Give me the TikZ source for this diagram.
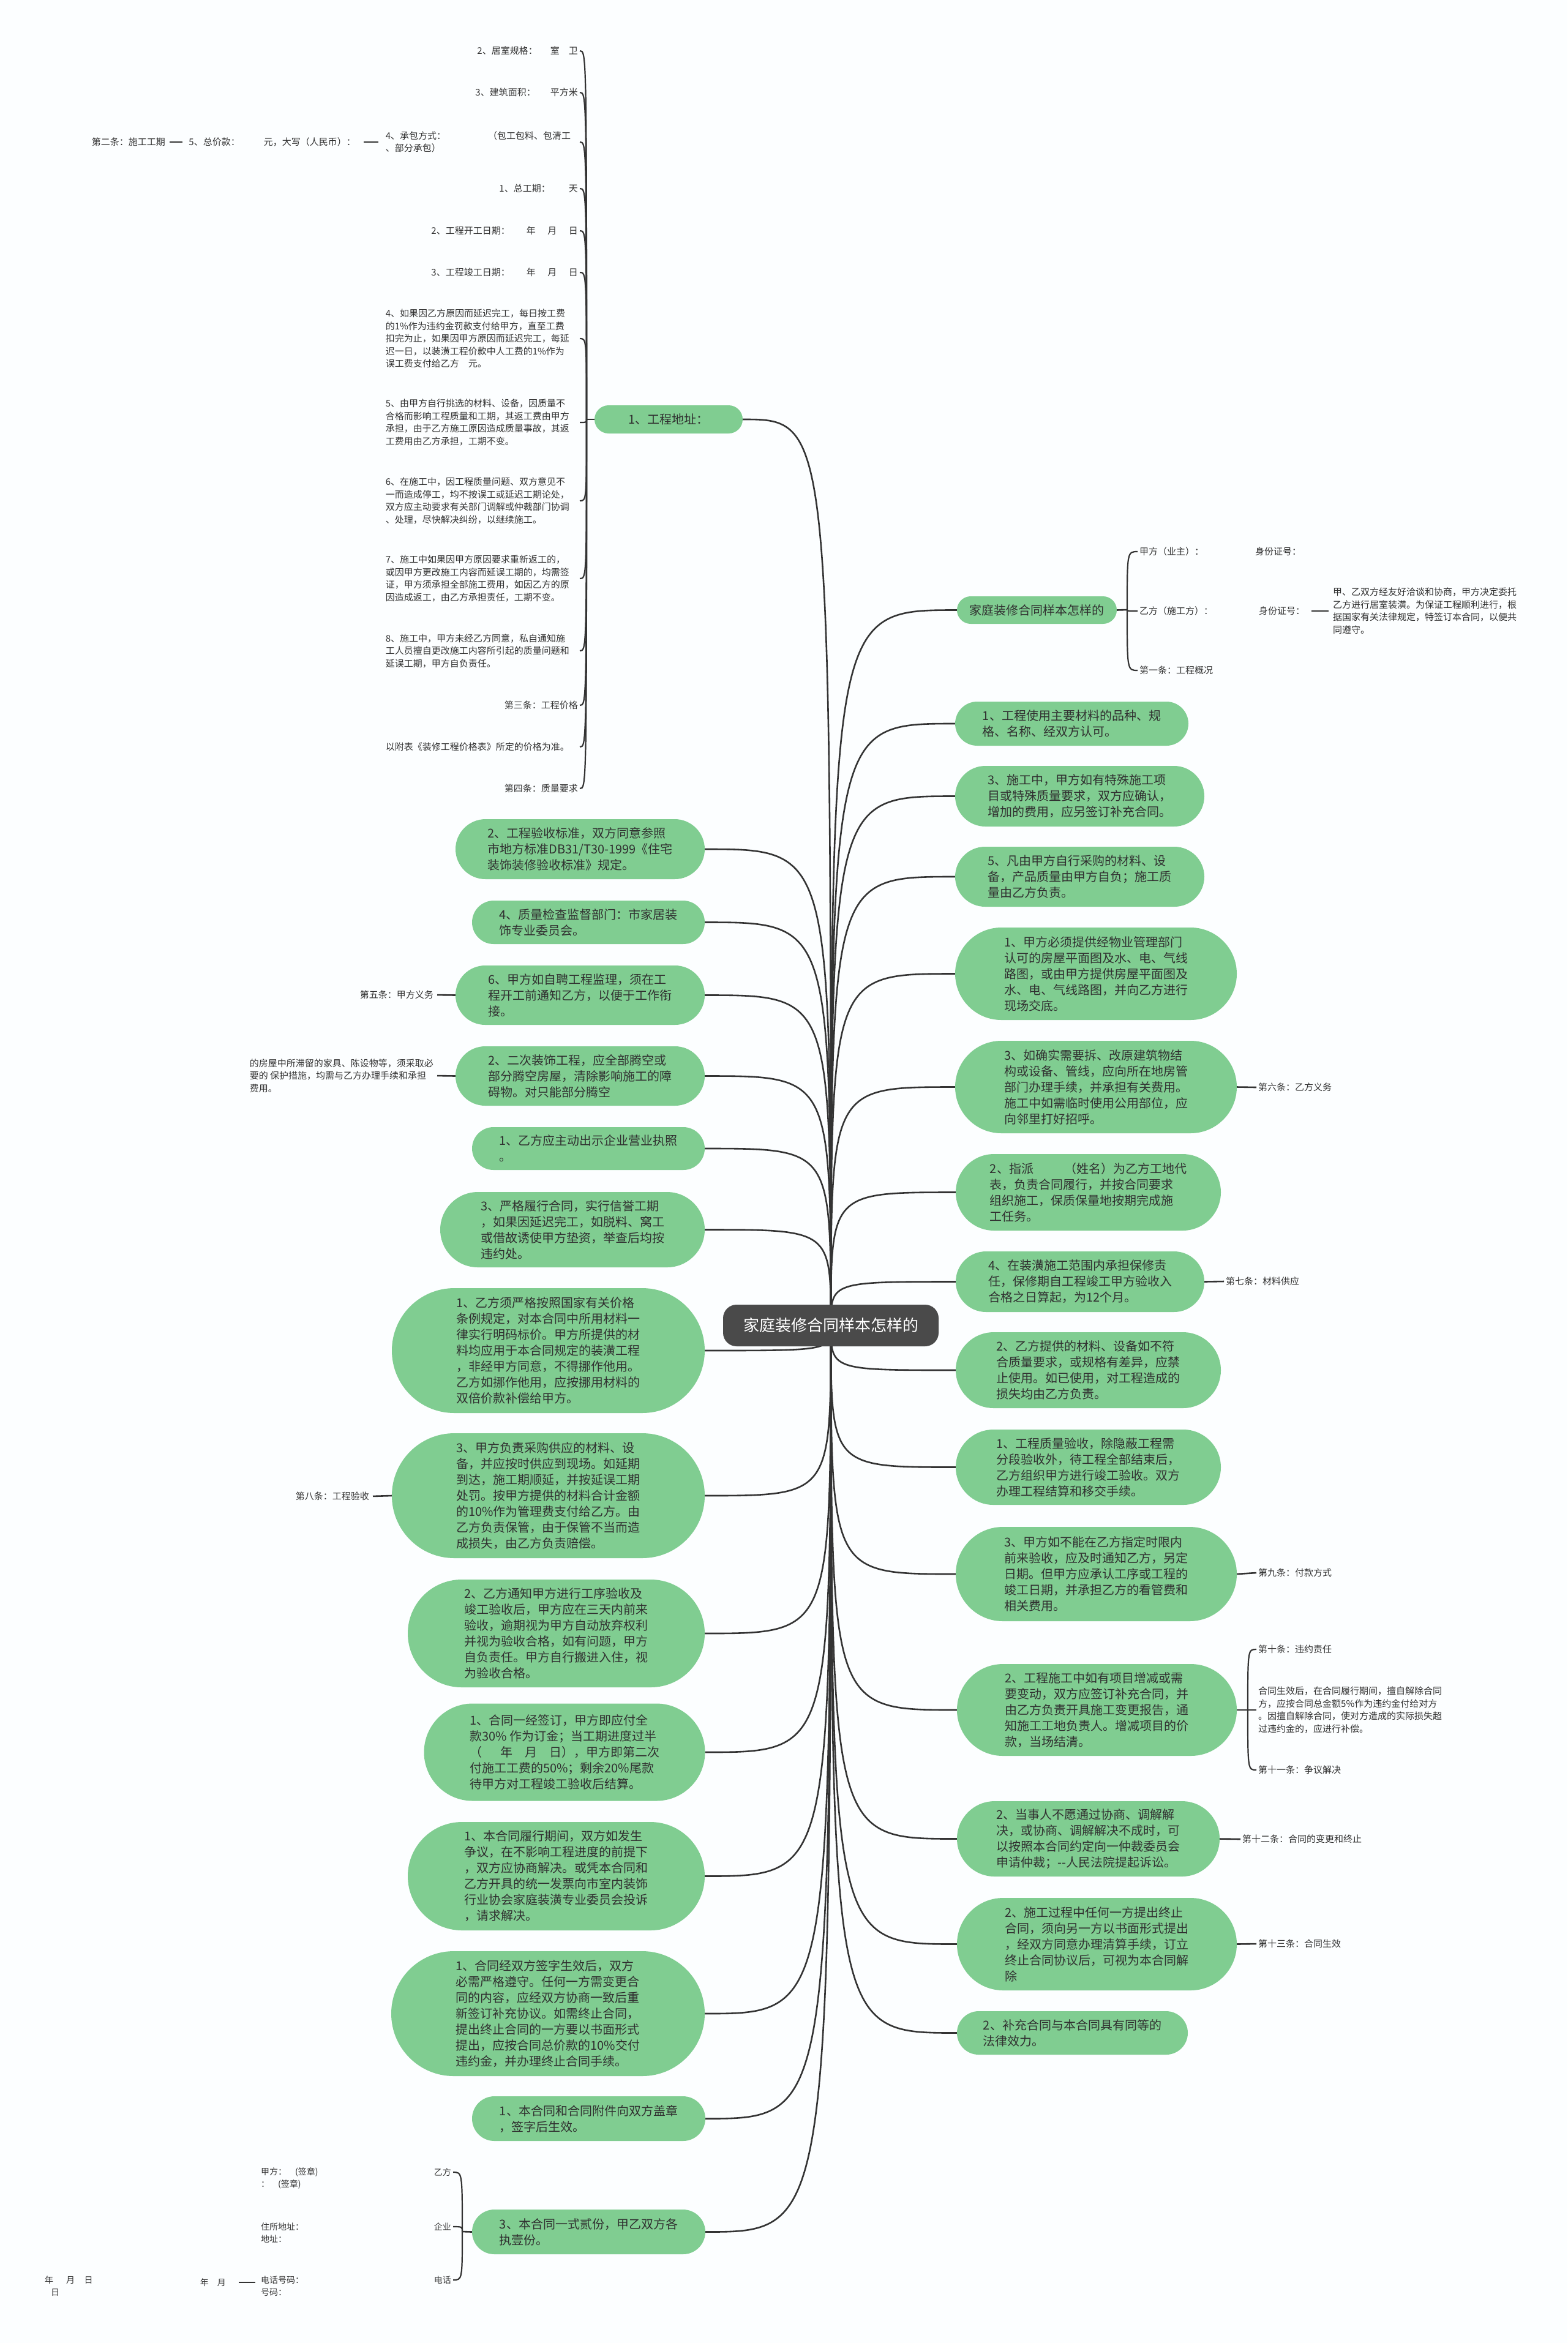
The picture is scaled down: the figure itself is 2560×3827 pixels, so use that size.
\documentclass[tikz,border=0pt]{standalone}
\usepackage{fontspec}
\setmainfont{Noto Sans CJK SC}
\usetikzlibrary{backgrounds,calc}
\definecolor{gfill}{HTML}{80CD91}
\definecolor{lc}{HTML}{333333}
\definecolor{tc}{HTML}{303030}
\definecolor{rootc}{HTML}{4A4A4A}
\definecolor{bgc}{HTML}{FCFEFF}
\tikzset{
  gnode/.style={rectangle, fill=gfill, text=tc, align=left, inner sep=0pt, font=\fontsize{20}{26}\selectfont},
  glabel/.style={text=tc, inner sep=3pt, font=\fontsize{15}{20.5}\selectfont},
  slabel/.style={text=tc, inner sep=3pt, font=\fontsize{14}{20.5}\selectfont},
  tl/.style={glabel, anchor=east, text width=314pt},
  conn/.style={draw=lc, line width=2.6pt},
  bconn/.style={draw=lc, line width=2.2pt},
  rootnode/.style={rectangle, fill=rootc, text=white, rounded corners=22pt, minimum width=352pt, minimum height=68pt, font=\fontsize{26}{30}\selectfont},
}
\newcommand{\gn}[6]{\node[gnode, minimum width=#4pt, minimum height=#5pt, rounded corners=#5pt/2] (#1) at (#2,#3) {#6};}
\begin{document}
\begin{tikzpicture}[x=1pt,y=-1pt]
\begin{scope}[on background layer]
\fill[bgc] (0,0) rectangle (2560,3827);
\end{scope}
\useasboundingbox (0,0) rectangle (2560,3827);

\node[rootnode] (root) at (1357,2165) {家庭装修合同样本怎样的};

% ---------- left green nodes ----------
\gn{L1}{1092}{685}{242}{46}{1、工程地址：}
\gn{L2}{947.5}{1387}{407}{98}{2、工程验收标准，双方同意参照\\市地方标准DB31/T30-1999《住宅\\装饰装修验收标准》规定。}
\gn{L3}{961}{1506.5}{380}{71}{4、质量检查监督部门：市家居装\\饰专业委员会。}
\gn{L4}{947.5}{1625.5}{407}{97}{6、甲方如自聘工程监理，须在工\\程开工前通知乙方，以便于工作衔\\接。}
\gn{L5}{947.5}{1757.5}{407}{97}{2、二次装饰工程，应全部腾空或\\部分腾空房屋，清除影响施工的障\\碍物。对只能部分腾空}
\gn{L6}{961}{1876}{380}{70}{1、乙方应主动出示企业营业执照\\。}
\gn{L7}{935}{2008.5}{432}{123}{3、严格履行合同，实行信誉工期\\，如果因延迟完工，如脱料、窝工\\或借故诱使甲方垫资，举查后均按\\违约处。}
\gn{L8}{895.5}{2206}{511}{204}{1、乙方须严格按照国家有关价格\\条例规定，对本合同中所用材料一\\律实行明码标价。甲方所提供的材\\料均应用于本合同规定的装潢工程\\，非经甲方同意，不得挪作他用。\\乙方如挪作他用，应按挪用材料的\\双倍价款补偿给甲方。}
\gn{L9}{895.5}{2443}{511}{204}{3、甲方负责采购供应的材料、设\\备，并应按时供应到现场。如延期\\到达，施工期顺延，并按延误工期\\处罚。按甲方提供的材料合计金额\\的10\%作为管理费支付给乙方。由\\乙方负责保管，由于保管不当而造\\成损失，由乙方负责赔偿。}
\gn{L10}{908.5}{2668}{485}{176}{2、乙方通知甲方进行工序验收及\\竣工验收后，甲方应在三天内前来\\验收，逾期视为甲方自动放弃权利\\并视为验收合格，如有问题，甲方\\自负责任。甲方自行搬进入住，视\\为验收合格。}
\gn{L11}{922}{2862}{459}{159}{1、合同一经签订，甲方即应付全\\款30\% 作为订金；当工期进度过半\\（\hspace{1.5em}年\hspace{1em}月\hspace{1em}日），甲方即第二次\\付施工工费的50\%；剩余20\%尾款\\待甲方对工程竣工验收后结算。}
\gn{L12}{908.5}{3064.5}{485}{177}{1、本合同履行期间，双方如发生\\争议，在不影响工程进度的前提下\\，双方应协商解决。或凭本合同和\\乙方开具的统一发票向市室内装饰\\行业协会家庭装潢专业委员会投诉\\，请求解决。}
\gn{L13}{895}{3289}{512}{204}{1、合同经双方签字生效后，双方\\必需严格遵守。任何一方需变更合\\同的内容，应经双方协商一致后重\\新签订补充协议。如需终止合同，\\提出终止合同的一方要以书面形式\\提出，应按合同总价款的10\%交付\\违约金，并办理终止合同手续。}
\gn{L14}{961.5}{3460.5}{381}{73}{1、本合同和合同附件向双方盖章\\，签字后生效。}
\gn{L15}{961.5}{3645.5}{381}{73}{3、本合同一式贰份，甲乙双方各\\执壹份。}

% ---------- right green nodes ----------
\gn{R1}{1693.5}{996.5}{261}{45}{家庭装修合同样本怎样的}
\gn{R2}{1750.5}{1182}{381}{72}{1、工程使用主要材料的品种、规\\格、名称、经双方认可。}
\gn{R3}{1763.5}{1300.5}{407}{99}{3、施工中，甲方如有特殊施工项\\目或特殊质量要求，双方应确认，\\增加的费用，应另签订补充合同。}
\gn{R4}{1763.5}{1432}{407}{98}{5、凡由甲方自行采购的材料、设\\备，产品质量由甲方自负；施工质\\量由乙方负责。}
\gn{R5}{1790}{1590.5}{460}{151}{1、甲方必须提供经物业管理部门\\认可的房屋平面图及水、电、气线\\路图，或由甲方提供房屋平面图及\\水、电、气线路图，并向乙方进行\\现场交底。}
\gn{R6}{1790}{1775.5}{460}{151}{3、如确实需要拆、改原建筑物结\\构或设备、管线，应向所在地房管\\部门办理手续，并承担有关费用。\\施工中如需临时使用公用部位，应\\向邻里打好招呼。}
\gn{R7}{1777.5}{1947.5}{433}{125}{2、指派\hspace{2.5em}（姓名）为乙方工地代\\表，负责合同履行，并按合同要求\\组织施工，保质保量地按期完成施\\工任务。}
\gn{R8}{1764}{2093.5}{406}{99}{4、在装潢施工范围内承担保修责\\任，保修期自工程竣工甲方验收入\\合格之日算起，为12个月。}
\gn{R9}{1777.5}{2238}{433}{124}{2、乙方提供的材料、设备如不符\\合质量要求，或规格有差异，应禁\\止使用。如已使用，对工程造成的\\损失均由乙方负责。}
\gn{R10}{1777.5}{2396.5}{433}{123}{1、工程质量验收，除隐蔽工程需\\分段验收外，待工程全部结束后，\\乙方组织甲方进行竣工验收。双方\\办理工程结算和移交手续。}
\gn{R11}{1790.5}{2571}{459}{154}{3、甲方如不能在乙方指定时限内\\前来验收，应及时通知乙方，另定\\日期。但甲方应承认工序或工程的\\竣工日期，并承担乙方的看管费和\\相关费用。}
\gn{R12}{1791.5}{2793}{457}{150}{2、工程施工中如有项目增减或需\\要变动，双方应签订补充合同，并\\由乙方负责开具施工变更报告，通\\知施工工地负责人。增减项目的价\\款，当场结清。}
\gn{R13}{1777.5}{3003.5}{429}{123}{2、当事人不愿通过协商、调解解\\决，或协商、调解解决不成时，可\\以按照本合同约定向一仲裁委员会\\申请仲裁；-{}-人民法院提起诉讼。}
\gn{R14}{1791.5}{3175.5}{457}{151}{2、施工过程中任何一方提出终止\\合同，须向另一方以书面形式提出\\，经双方同意办理清算手续，订立\\终止合同协议后，可视为本合同解\\除}
\gn{R15}{1751.5}{3320.5}{377}{71}{2、补充合同与本合同具有同等的\\法律效力。}

% ---------- top-left labels (children of L1) ----------
\coordinate (J1) at (958,685);
\node[tl, align=right] (a1) at (947,83) {2、居室规格：\hspace{1.4em}室\hspace{1em}卫};
\node[tl, align=right] (a2) at (947,151) {3、建筑面积：\hspace{1.6em}平方米};
\node[tl, align=left] (a3) at (947,232) {4、承包方式：\hspace{4.6em}（包工包料、包清工\\、部分承包）};
\node[glabel, anchor=east] (a4) at (584,232) {5、总价款：\hspace{2.6em}元，大写（人民币）：};
\node[glabel, anchor=east] (a5) at (273,232) {第二条：施工工期};
\node[tl, align=right] (b1) at (947,308) {1、总工期：\hspace{2em}天};
\node[tl, align=right] (b2) at (947,377) {2、工程开工日期：\hspace{1.8em}年\hspace{1.3em}月\hspace{1.3em}日};
\node[tl, align=right] (b3) at (947,445) {3、工程竣工日期：\hspace{1.8em}年\hspace{1.3em}月\hspace{1.3em}日};
\node[tl, align=left] (c4) at (947,553) {4、如果因乙方原因而延迟完工，每日按工费\\的1\%作为违约金罚款支付给甲方，直至工费\\扣完为止，如果因甲方原因而延迟完工，每延\\迟一日，以装潢工程价款中人工费的1\%作为\\误工费支付给乙方\hspace{1em}元。};
\node[tl, align=left] (c5) at (947,690) {5、由甲方自行挑选的材料、设备，因质量不\\合格而影响工程质量和工期，其返工费由甲方\\承担，由于乙方施工原因造成质量事故，其返\\工费用由乙方承担，工期不变。};
\node[tl, align=left] (c6) at (947,818) {6、在施工中，因工程质量问题、双方意见不\\一而造成停工，均不按误工或延迟工期论处，\\双方应主动要求有关部门调解或仲裁部门协调\\、处理，尽快解决纠纷，以继续施工。};
\node[tl, align=left] (c7) at (947,945) {7、施工中如果因甲方原因要求重新返工的，\\或因甲方更改施工内容而延误工期的，均需签\\证，甲方须承担全部施工费用，如因乙方的原\\因造成返工，由乙方承担责任，工期不变。};
\node[tl, align=left] (c8) at (947,1063) {8、施工中，甲方未经乙方同意，私自通知施\\工人员擅自更改施工内容所引起的质量问题和\\延误工期，甲方自负责任。};
\node[tl, align=right] (d1) at (947,1152) {第三条：工程价格};
\node[tl, align=left] (d2) at (947,1220) {以附表《装修工程价格表》所定的价格为准。};
\node[tl, align=right] (d3) at (947,1288) {第四条：质量要求};

% ---------- right labels of R1 ----------
\coordinate (J2) at (1841,996);
\node[glabel, anchor=west] (rb1) at (1858,901) {甲方（业主）：\hspace{5.6em}身份证号：};
\node[glabel, anchor=west] (rb2) at (1858,998) {乙方（施工方）：\hspace{5em}身份证号：};
\node[glabel, anchor=west, align=left] (rb3) at (2174,998) {甲、乙双方经友好洽谈和协商，甲方决定委托\\乙方进行居室装潢。为保证工程顺利进行，根\\据国家有关法律规定，特签订本合同，以便共\\同遵守。};
\node[glabel, anchor=west] (rb4) at (1858,1095) {第一条：工程概况};

% ---------- other right labels ----------
\node[glabel, anchor=west] (s6) at (2052,1776) {第六条：乙方义务};
\node[glabel, anchor=west] (s7) at (1999,2093) {第七条：材料供应};
\node[glabel, anchor=west] (s9) at (2052,2569) {第九条：付款方式};
\coordinate (J3) at (2038,2793);
\node[glabel, anchor=west] (rc1) at (2052,2694) {第十条：违约责任};
\node[glabel, anchor=west, align=left] (rc2) at (2052,2793) {合同生效后，在合同履行期间，擅自解除合同\\方，应按合同总金额5\%作为违约金付给对方\\。因擅自解除合同，使对方造成的实际损失超\\过违约金的，应进行补偿。};
\node[glabel, anchor=west] (rc3) at (2052,2891) {第十一条：争议解决};
\node[glabel, anchor=west] (s12) at (2026,3004) {第十二条：合同的变更和终止};
\node[glabel, anchor=west] (s13) at (2052,3175) {第十三条：合同生效};

% ---------- other left labels ----------
\node[glabel, anchor=east] (t5) at (711,1625) {第五条：甲方义务};
\node[glabel, anchor=east, align=left] (t5b) at (711,1757) {的房屋中所滞留的家具、陈设物等，须采取必\\要的 保护措施，均需与乙方办理手续和承担\\费用。};
\node[glabel, anchor=east] (t8) at (606,2444) {第八条：工程验收};

% ---------- bottom-left labels ----------
\coordinate (J4) at (755,3645);
\node[slabel, anchor=east] (u1) at (740,3548) {乙方};
\node[slabel, anchor=east] (u2) at (740,3637) {企业};
\node[slabel, anchor=east] (u3) at (740,3724) {电话};
\node[slabel, anchor=west, align=left] (u1t) at (423,3558) {甲方：\hspace{1em}(签章)\\：\hspace{1em}(签章)};
\node[slabel, anchor=west, align=left] (u2t) at (423,3647) {住所地址：\\地址：};
\node[slabel, anchor=west, align=left] (u3t) at (423,3734) {电话号码：\\号码：};
\node[slabel, anchor=east] (u4) at (372,3728) {年\hspace{1em}月};
\node[slabel, anchor=west, align=left] (u5) at (70,3734) {年\hspace{1.5em}月\hspace{1.1em}日\\\hspace{0.7em}日};

% ---------- connectors ----------
\begin{scope}[on background layer]
\foreach \n in {L1,L2,L3,L4,L5,L6,L7,L8,L9,L10,L11,L12,L13,L14,L15}
  {\draw[conn] (root.center) .. controls (root.center |- \n.east) .. (\n.east);}
\foreach \n in {R1,R2,R3,R4,R5,R6,R7,R8,R9,R10,R11,R12,R13,R14,R15}
  {\draw[conn] (root.center) .. controls (root.center |- \n.west) .. (\n.west);}
\draw[conn] (L1.west) -- (J1);
\foreach \c in {a1,a2,a3,b1,b2,b3,c4,c5,c6,c7,c8,d1,d2,d3}
  {\draw[bconn] (J1) .. controls (J1 |- \c.east) .. (\c.east);}
\draw[conn, shorten <=9pt, shorten >=10pt] (a3.west) -- (a4.east);
\draw[conn, shorten <=7pt, shorten >=4pt] (a4.west) -- (a5.east);
\draw[conn] (R1.east) -- (J2);
\foreach \c in {rb1,rb2,rb4}
  {\draw[bconn] (J2) .. controls (J2 |- \c.west) .. (\c.west);}
\draw[conn, shorten <=8pt, shorten >=4pt] (rb2.east) -- (rb3.west);
\draw[conn] (R6.east) -- (s6.west);
\draw[conn] (R8.east) -- (s7.west);
\draw[conn] (R11.east) -- (s9.west);
\draw[conn] (R12.east) -- (J3);
\foreach \c in {rc1,rc2,rc3}
  {\draw[bconn] (J3) .. controls (J3 |- \c.west) .. (\c.west);}
\draw[conn] (R13.east) -- (s12.west);
\draw[conn] (R14.east) -- (s13.west);
\draw[conn, shorten >=3pt] (L4.west) -- (t5.east);
\draw[conn, shorten >=3pt] (L5.west) -- (t5b.east);
\draw[conn, shorten >=3pt] (L9.west) -- (t8.east);
\draw[conn] (L15.west) -- (J4);
\foreach \c in {u1,u2,u3}
  {\draw[bconn] (J4) .. controls (J4 |- \c.east) .. (\c.east);}
\draw[conn, shorten <=18pt, shorten >=6pt] (u4.east) -- (u4.east -| u3t.west);
\end{scope}
\end{tikzpicture}
\end{document}
